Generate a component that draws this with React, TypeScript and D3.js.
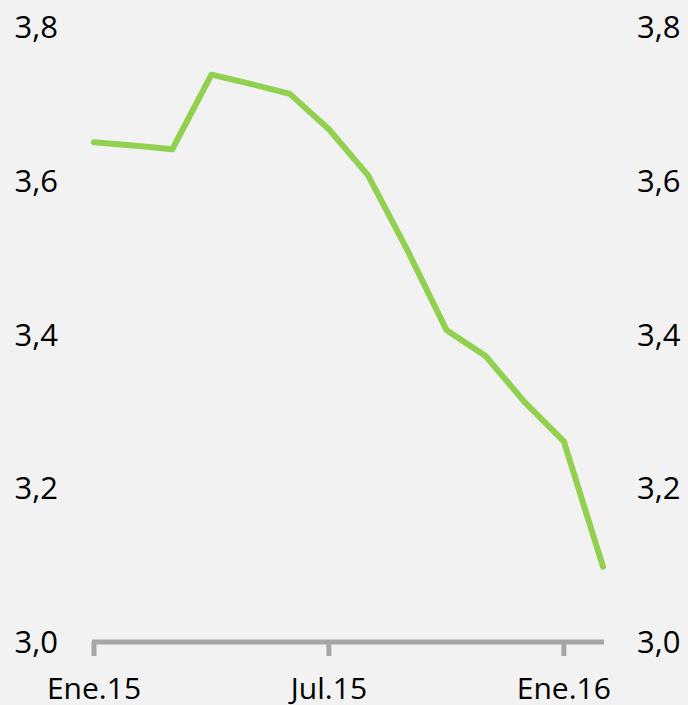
import React from "react";
import * as d3 from "d3";

const months = ["2015-01","2015-02","2015-03","2015-04","2015-05","2015-06","2015-07","2015-08","2015-09","2015-10","2015-11","2015-12","2016-01","2016-02"];
const values = [3.65, 3.646, 3.641, 3.738, 3.726, 3.713, 3.667, 3.607, 3.51, 3.406, 3.372, 3.312, 3.261, 3.098];
const yTicks = [3.0, 3.2, 3.4, 3.6, 3.8];
const xTickIdx = [0, 6, 12];
const xTickLabels = ["Ene.15", "Jul.15", "Ene.16"];

const W = 688, H = 705;

export default function App() {
  const x = d3.scaleLinear().domain([0, months.length - 1]).range([94, 603]);
  const y = d3.scaleLinear().domain([3.0, 3.8]).range([642, 27]);
  const line = d3.line<number>().x((_, i) => x(i)).y((d) => y(d));
  const fmt = (v: number) => v.toFixed(1).replace(".", ",");
  const font = "'Open Sans', sans-serif";
  return (
    <div style={{ position: "fixed", left: 0, top: 0 }}>
      <svg width={W} height={H} style={{ display: "block" }}>
        <rect width={W} height={H} fill="#f2f2f2" />
        {yTicks.map((t) => (
          <g key={t}>
            <text x={58} y={y(t)} dy="0.36em" textAnchor="end" fontFamily={font} fontSize={31} fill="#000">{fmt(t)}</text>
            <text x={637} y={y(t)} dy="0.36em" textAnchor="start" fontFamily={font} fontSize={31} fill="#000">{fmt(t)}</text>
          </g>
        ))}
        <line x1={x(0) - 2} x2={x(months.length - 1) + 1} y1={y(3.0)} y2={y(3.0)} stroke="#a6a6a6" strokeWidth={5} />
        {xTickIdx.map((i, k) => (
          <g key={i}>
            <line x1={x(i)} x2={x(i)} y1={y(3.0)} y2={y(3.0) + 14} stroke="#a6a6a6" strokeWidth={5} />
            <text x={x(i)} y={699} textAnchor="middle" fontFamily={font} fontSize={30} fill="#000">{xTickLabels[k]}</text>
          </g>
        ))}
        <path d={line(values) || ""} fill="none" stroke="#92d050" strokeWidth={6} strokeLinejoin="round" strokeLinecap="round" />
      </svg>
    </div>
  );
}
